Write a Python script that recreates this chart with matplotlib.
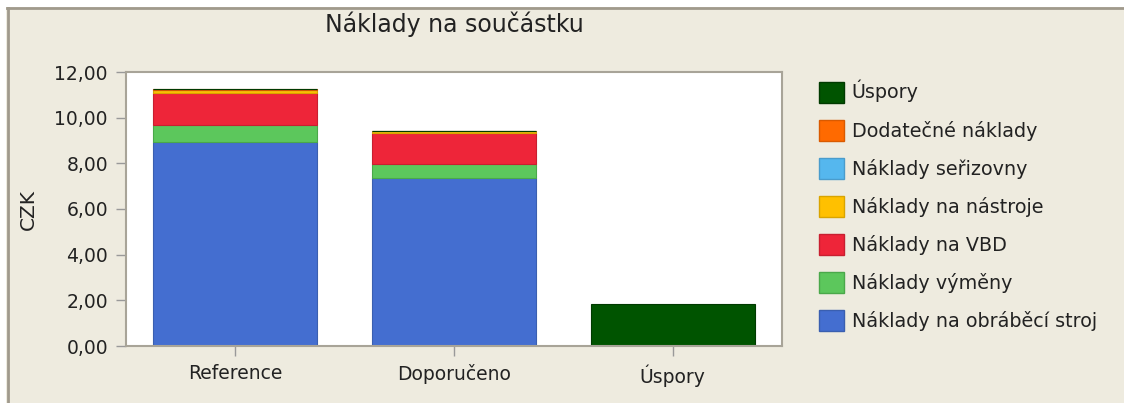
import matplotlib
matplotlib.use("Agg")
import matplotlib.pyplot as plt
from matplotlib.patches import Patch, Rectangle
from matplotlib.lines import Line2D
import numpy as np

plt.rcParams['font.family'] = ['DejaVu Sans']

categories = ["Reference", "Doporučeno", "Úspory"]
series_names = ["Náklady na obráběcí stroj", "Náklady výměny", "Náklady na VBD",
                "Náklady na nástroje", "Náklady seřizovny", "Dodatečné náklady", "Úspory"]
obrabeci_stroj = [8.92, 7.35, 0.0]
vymeny = [0.77, 0.60, 0.0]
vbd = [1.39, 1.38, 0.0]
nastroje = [0.12, 0.07, 0.0]
serizovny = [0.02, 0.01, 0.0]
dodatecne = [0.04, 0.02, 0.0]
uspory = [0.0, 0.0, 1.84]
yticks = [0, 2, 4, 6, 8, 10, 12]
ytick_labels = ["0,00", "2,00", "4,00", "6,00", "8,00", "10,00", "12,00"]

series = [obrabeci_stroj, vymeny, vbd, nastroje, serizovny, dodatecne, uspory]
colors = ["#446ed0", "#5cc75c", "#ee2539", "#ffc000", "#55b7ee", "#ff6a00", "#005400"]
edges = ["#3a5fb0", "#4aa84a", "#c81f30", "#d9a400", "#4a9ccc", "#d95a00", "#003a00"]

bg = "#eeebdf"
frame = "#a8a498"

fig = plt.figure(figsize=(11.24, 4.03), dpi=100, facecolor=bg)
ax = fig.add_axes([126/1124, 1-346/403, (782-126)/1124, (346-72)/403])
ax.set_facecolor("white")

x = np.arange(len(categories))
bottom = np.zeros(len(categories))
for vals, c, e in zip(series, colors, edges):
    v = np.array(vals)
    ax.bar(x, v, 0.75, bottom=bottom, color=c, edgecolor=e, linewidth=0.8)
    bottom += v

ax.set_xlim(-0.5, 2.5)
ax.set_ylim(0, 12)
ax.set_xticks(x)
ax.set_xticklabels(categories, fontsize=13.5, color="#222222")
ax.set_yticks(yticks)
ax.set_yticklabels(ytick_labels, fontsize=13.5, color="#222222")
ax.tick_params(axis="both", direction="out", length=7, width=1, color="#999999", pad=6)
for s in ax.spines.values():
    s.set_color(frame)
    s.set_linewidth(1.5)
ax.set_ylabel("CZK", fontsize=14.5, color="#222222", labelpad=12)
ax.set_title("Náklady na součástku", fontsize=17, color="#222222", pad=29)

handles = [Patch(facecolor=c, edgecolor=e, linewidth=1) for c, e in zip(colors, edges)][::-1]
labels = series_names[::-1]
leg = fig.legend(handles, labels, loc="upper left", bbox_to_anchor=(819/1124, 1-80/403),
                 frameon=False, fontsize=13.8, handlelength=1.32, handleheight=1.32,
                 handletextpad=0.38, labelspacing=0.88, borderaxespad=0, borderpad=0)
for t in leg.get_texts():
    t.set_color("#222222")

# outer frame lines (top and left)
fig.add_artist(Line2D([7/1124, 1], [1-7.5/403, 1-7.5/403], color="#a09a8c", linewidth=2,
                      transform=fig.transFigure))
fig.add_artist(Line2D([7.5/1124, 7.5/1124], [0, 1-7.5/403], color="#a09a8c", linewidth=2,
                      transform=fig.transFigure))
# white area above / left of the frame
fig.add_artist(Rectangle((0, 1-6.5/403), 1, 6.5/403, facecolor="white", edgecolor="none",
                         transform=fig.transFigure))
fig.add_artist(Rectangle((0, 0), 6.5/1124, 1, facecolor="white", edgecolor="none",
                         transform=fig.transFigure))

fig.savefig("out.png", dpi=100, facecolor=bg)
